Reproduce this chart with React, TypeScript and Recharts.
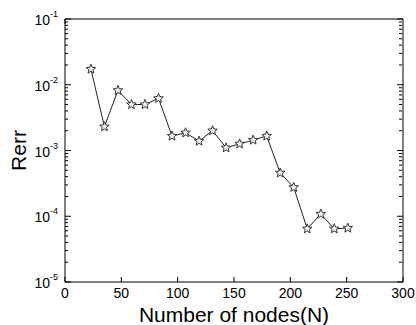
import React from "react";
import { LineChart, Line, XAxis, YAxis } from "recharts";

// number of nodes and relative error
const nodes = [23, 35, 47, 59, 71, 83, 95, 107, 119, 131, 143, 155, 167, 179, 191, 203, 215, 227, 239, 251];
const rerr = [
  0.0173, 0.0023, 0.0082, 0.005, 0.005, 0.0062, 0.00166, 0.00186, 0.00139, 0.002,
  0.0011, 0.00126, 0.00144, 0.00166, 0.000456, 0.000275, 0.0000644, 0.000108, 0.0000644, 0.000066,
];

const xTicks = [0, 50, 100, 150, 200, 250, 300];
const yTicks = [1e-5, 1e-4, 1e-3, 1e-2, 1e-1];
const yMinorTicks = [
  2e-5, 3e-5, 4e-5, 5e-5, 6e-5, 7e-5, 8e-5, 9e-5,
  2e-4, 3e-4, 4e-4, 5e-4, 6e-4, 7e-4, 8e-4, 9e-4,
  2e-3, 3e-3, 4e-3, 5e-3, 6e-3, 7e-3, 8e-3, 9e-3,
  2e-2, 3e-2, 4e-2, 5e-2, 6e-2, 7e-2, 8e-2, 9e-2,
];

const data = nodes.map((n, i) => ({ n, rerr: rerr[i] }));

const FONT = "'Liberation Sans', Arial, sans-serif";
const INK = "#000";

// y labels like 10^-3, plus an inward tick at the axis
const PowerTick = (props: any) => {
  const { x, y, payload } = props;
  const exp = Math.round(Math.log10(payload.value));
  return (
    <g>
      <line x1={x + 7} y1={y} x2={x + 13} y2={y} stroke={INK} strokeWidth={1} />
      <text x={x} y={y} dy={6} textAnchor="end" fontSize={14} fill={INK} fontFamily={FONT}>
        <tspan>10</tspan>
        <tspan dy={-8} fontSize={9}>{exp}</tspan>
      </text>
    </g>
  );
};

const XTick = (props: any) => {
  const { x, y, payload } = props;
  return (
    <g>
      <line x1={x} y1={y - 5} x2={x} y2={y - 10} stroke={INK} strokeWidth={1} />
      <text x={x} y={y} dy={11} textAnchor="middle" fontSize={14} fill={INK} fontFamily={FONT}>
        {payload.value}
      </text>
    </g>
  );
};

// bare tick mark for the mirrored frame axes
const TickMark = (props: any) => {
  const { x, y, dir, len } = props;
  const dx = dir === "right" ? len : dir === "left" ? -len : 0;
  const dy = dir === "down" ? len : dir === "up" ? -len : 0;
  return <line x1={x} y1={y} x2={x + dx} y2={y + dy} stroke={INK} strokeWidth={1} />;
};

const Star = (props: any) => {
  const { cx, cy } = props;
  if (cx == null || cy == null) return null;
  const pts: string[] = [];
  for (let i = 0; i < 10; i++) {
    const r = i % 2 === 0 ? 5 : 2.2;
    const a = -Math.PI / 2 + (i * Math.PI) / 5;
    pts.push(`${cx + r * Math.cos(a)},${cy + r * Math.sin(a)}`);
  }
  return <polygon points={pts.join(" ")} fill="#eeeeee" stroke="#222" strokeWidth={0.9} />;
};

const YLabel = (props: any) => {
  const { viewBox } = props;
  const cx = viewBox.x + 3;
  const cy = viewBox.y + viewBox.height / 2;
  return (
    <text
      x={cx}
      y={cy}
      transform={`rotate(-90, ${cx}, ${cy})`}
      textAnchor="middle"
      dominantBaseline="central"
      fontSize={21}
      fill={INK}
      fontFamily={FONT}
    >
      Rerr
    </text>
  );
};

export default function App() {
  return (
    <div style={{ position: "absolute", left: 0, top: 0, background: "#fff" }}>
      <LineChart width={416} height={325} data={data} margin={{ top: 19, right: 13, bottom: 0, left: 15 }}>
        <XAxis
          xAxisId="x"
          dataKey="n"
          type="number"
          domain={[0, 300]}
          ticks={xTicks}
          interval={0}
          allowDataOverflow
          height={43}
          stroke={INK}
          tickLine={false}
          tickSize={0}
          tickMargin={5}
          tick={<XTick />}
          label={{ value: "Number of nodes(N)", position: "insideBottom", offset: 3, fontSize: 21, fill: INK, fontFamily: FONT }}
        />
        <XAxis
          xAxisId="xt"
          orientation="top"
          type="number"
          domain={[0, 300]}
          ticks={xTicks}
          interval={0}
          allowDataOverflow
          mirror
          height={1}
          stroke={INK}
          tickLine={false}
          tickSize={0}
          tickMargin={0}
          tick={<TickMark dir="down" len={5} />}
        />
        <YAxis
          yAxisId="y"
          scale="log"
          type="number"
          domain={[1e-5, 1e-1]}
          ticks={yTicks}
          interval={0}
          allowDataOverflow
          width={50}
          stroke={INK}
          tickLine={false}
          tickSize={0}
          tickMargin={7}
          tick={<PowerTick />}
          label={<YLabel />}
        />
        <YAxis
          yAxisId="ym"
          scale="log"
          type="number"
          domain={[1e-5, 1e-1]}
          ticks={yMinorTicks}
          interval={0}
          allowDataOverflow
          mirror
          width={1}
          axisLine={false}
          tickLine={false}
          tickSize={0}
          tickMargin={0}
          tick={<TickMark dir="right" len={3} />}
        />
        <YAxis
          yAxisId="yr"
          orientation="right"
          scale="log"
          type="number"
          domain={[1e-5, 1e-1]}
          ticks={yTicks}
          interval={0}
          allowDataOverflow
          mirror
          width={1}
          stroke={INK}
          tickLine={false}
          tickSize={0}
          tickMargin={0}
          tick={<TickMark dir="left" len={6} />}
        />
        <YAxis
          yAxisId="yrm"
          orientation="right"
          scale="log"
          type="number"
          domain={[1e-5, 1e-1]}
          ticks={yMinorTicks}
          interval={0}
          allowDataOverflow
          mirror
          width={1}
          axisLine={false}
          tickLine={false}
          tickSize={0}
          tickMargin={0}
          tick={<TickMark dir="left" len={3} />}
        />
        <Line
          xAxisId="x"
          yAxisId="y"
          dataKey="rerr"
          type="linear"
          stroke="#222"
          strokeWidth={1}
          dot={<Star />}
          activeDot={false}
          isAnimationActive={false}
        />
      </LineChart>
    </div>
  );
}
